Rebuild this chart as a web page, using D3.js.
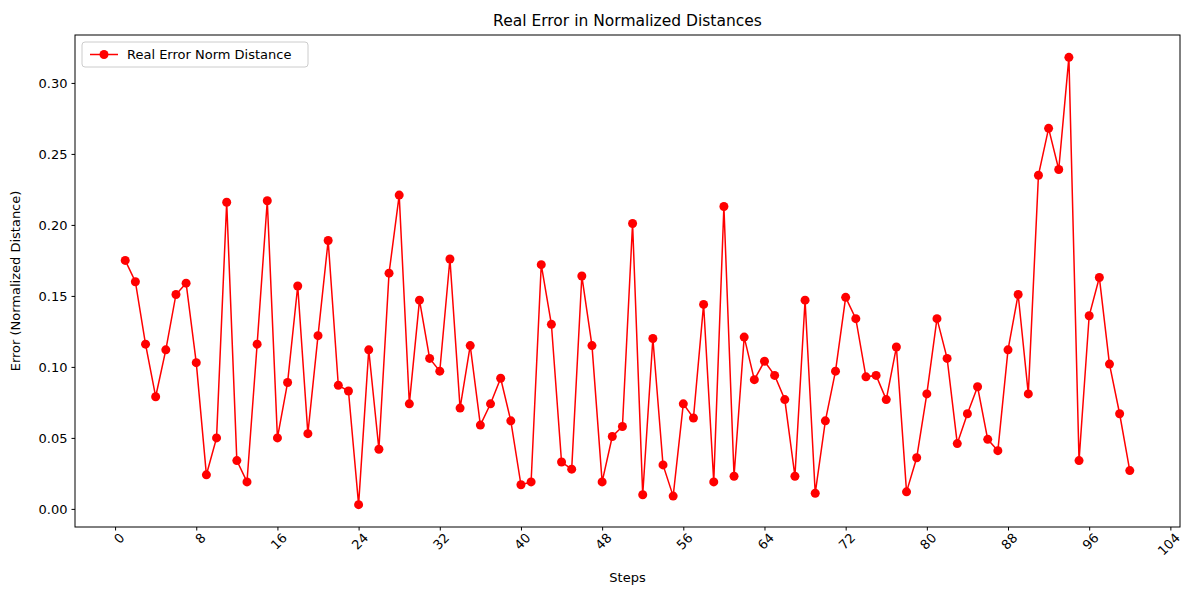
<!DOCTYPE html>
<html>
<head>
<meta charset="utf-8">
<script src="https://cdn.jsdelivr.net/npm/d3@7"></script>
<style>
  body { margin: 0; background: #fff; }
  text { font-family: "DejaVu Sans", sans-serif; }
</style>
</head>
<body>
<div id="my_chart"></div>
<script>
// data
const steps = d3.range(1, 101);
const errors = [
  0.175, 0.160, 0.116, 0.079, 0.112, 0.151, 0.159, 0.103, 0.024, 0.050,
  0.216, 0.034, 0.019, 0.116, 0.217, 0.050, 0.089, 0.157, 0.053, 0.122,
  0.189, 0.087, 0.083, 0.003, 0.112, 0.042, 0.166, 0.221, 0.074, 0.147,
  0.106, 0.097, 0.176, 0.071, 0.115, 0.059, 0.074, 0.092, 0.062, 0.017,
  0.019, 0.172, 0.130, 0.033, 0.028, 0.164, 0.115, 0.019, 0.051, 0.058,
  0.201, 0.010, 0.120, 0.031, 0.009, 0.074, 0.064, 0.144, 0.019, 0.213,
  0.023, 0.121, 0.091, 0.104, 0.094, 0.077, 0.023, 0.147, 0.011, 0.062,
  0.097, 0.149, 0.134, 0.093, 0.094, 0.077, 0.114, 0.012, 0.036, 0.081,
  0.134, 0.106, 0.046, 0.067, 0.086, 0.049, 0.041, 0.112, 0.151, 0.081,
  0.235, 0.268, 0.239, 0.318, 0.034, 0.136, 0.163, 0.102, 0.067, 0.027
];
const xTicks = d3.range(0, 105, 8);
const yTicks = [0, 0.05, 0.10, 0.15, 0.20, 0.25, 0.30];

const margin = { top: 35, right: 20, bottom: 73, left: 75 },
    width = 1200 - margin.left - margin.right,
    height = 600 - margin.top - margin.bottom;

const svg = d3.select("#my_chart")
    .append("svg")
    .attr("width", 1200)
    .attr("height", 600)
    .append("g")
    .attr("transform", `translate(${margin.left},${margin.top})`);

const x = d3.scaleLinear().domain([1 - 4.95, 100 + 4.95]).range([0, width]);
const yMin = 0.003, yMax = 0.318, pad = (yMax - yMin) * 0.05;
const y = d3.scaleLinear().domain([yMin - pad, yMax + pad]).range([height, 0]);

// X axis
const gx = svg.append("g")
    .attr("transform", `translate(0,${height})`)
    .call(d3.axisBottom(x).tickValues(xTicks).tickSize(3.5).tickPadding(4).tickSizeOuter(0));
gx.selectAll("text")
    .attr("font-size", 13)
    .attr("text-anchor", "end")
    .attr("dx", "-0.1em").attr("dy", "0.6em")
    .attr("transform", "rotate(-45)");

// Y axis
svg.append("g")
    .call(d3.axisLeft(y).tickValues(yTicks).tickFormat(d3.format(".2f")).tickSize(3.5).tickPadding(4).tickSizeOuter(0))
    .selectAll("text").attr("font-size", 13);

svg.selectAll(".domain").remove();
svg.append("rect")
    .attr("width", width).attr("height", height)
    .attr("fill", "none").attr("stroke", "#000").attr("stroke-width", 1);

// line and markers
const line = d3.line().x((d, i) => x(steps[i])).y(d => y(d));
svg.append("path")
    .datum(errors)
    .attr("d", line)
    .attr("fill", "none")
    .attr("stroke", "red")
    .attr("stroke-width", 1.5);
svg.selectAll("circle.pt")
    .data(errors)
    .join("circle")
    .attr("class", "pt")
    .attr("cx", (d, i) => x(steps[i]))
    .attr("cy", d => y(d))
    .attr("r", 4.5)
    .attr("fill", "red");

// titles
svg.append("text").attr("x", width / 2).attr("y", -9)
    .attr("text-anchor", "middle").attr("font-size", 15.5).text("Real Error in Normalized Distances");
svg.append("text").attr("x", width / 2).attr("y", height + 55)
    .attr("text-anchor", "middle").attr("font-size", 13).text("Steps");
svg.append("text").attr("transform", `translate(-55,${height / 2}) rotate(-90)`)
    .attr("text-anchor", "middle").attr("font-size", 13).text("Error (Normalized Distance)");

// legend
const lg = svg.append("g").attr("transform", "translate(7,7)");
lg.append("rect").attr("width", 226).attr("height", 25).attr("rx", 3)
    .attr("fill", "#fff").attr("stroke", "#ccc");
lg.append("line").attr("x1", 8).attr("x2", 36).attr("y1", 12.5).attr("y2", 12.5)
    .attr("stroke", "red").attr("stroke-width", 1.5);
lg.append("circle").attr("cx", 22).attr("cy", 12.5).attr("r", 4.5).attr("fill", "red");
lg.append("text").attr("x", 45).attr("y", 17).attr("font-size", 13).text("Real Error Norm Distance");
</script>
</body>
</html>
